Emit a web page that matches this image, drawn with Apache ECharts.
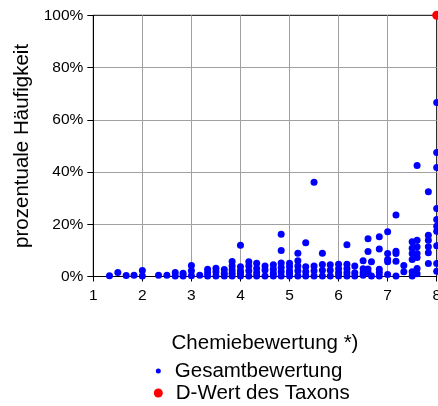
<!DOCTYPE html>
<html>
<head>
<meta charset="utf-8">
<script src="https://cdn.jsdelivr.net/npm/echarts@6/dist/echarts.min.js"></script>
<style>
html,body{margin:0;padding:0;background:#fff;}
#chart{width:438px;height:406px;}
</style>
</head>
<body>
<div id="chart"></div>
<script>
// Category positions (Chemiebewertung) and percentage values (Gesamtbewertung)
const xTicks = [1, 2, 3, 4, 5, 6, 7, 8];
const yTicks = [0, 20, 40, 60, 80, 100];
const gesamtX = [1.33, 1.5, 1.67, 1.83, 2.0, 2.33, 2.5, 2.67, 2.83, 3.0, 3.17, 3.33, 3.5, 3.67, 3.83,
  4.0, 4.17, 4.33, 4.5, 4.67, 4.83, 5.0, 5.17, 5.33, 5.5, 5.67, 5.83, 6.0, 6.17, 6.33, 6.5, 6.6, 6.67,
  6.83, 7.0, 7.17, 7.33, 7.5, 7.6, 7.83, 8.0];
const gesamtY = [
  [0.3], [1.5], [0.4], [0.5], [2.3, 0.2], [0.5], [0.5], [1.5, 0.2], [1.2, 0.2],
  [4.2, 2.2, 0.3], [0.5], [2.8, 1.4, 0.2], [3.2, 1.8, 0.2], [2.7, 1.2, 0.2],
  [5.7, 4.0, 2.5, 1.2, 0.2],
  [12, 3.7, 2.2, 1.2, 0.2], [5.6, 4.0, 2.2, 0.2], [5.1, 3.1, 1.4, 0.2], [4.0, 2.5, 0.2],
  [4.5, 2.8, 1.2, 0.2], [16.2, 10, 5.2, 3.4, 1.8, 0.2], [5.1, 3.7, 2.2, 1.2, 0.2],
  [8.9, 6.0, 4.0, 2.2, 0.2], [12.9, 3.7, 1.8, 0.2], [36.1, 4.0, 2.2, 0.2], [8.9, 4.6, 2.4, 0.2],
  [4.5, 2.4, 0.2], [4.7, 3.0, 1.4, 0.2], [12.2, 4.7, 3.0, 1.4, 0.2], [4.0, 1.4, 0.2],
  [6.0, 3.0, 1.4, 0.5], [14.5, 9.6, 2.9, 1.5], [5.6, 0.2],
  [15.2, 10.5, 2.8, 1.5, 0.2], [17.1, 8.8, 6.5, 5.6, 0.8], [23.5, 9.7, 8.8, 5.8, 0.2],
  [4.2, 1.8], [13.3, 10.8, 8.8, 6.5, 1.8, 0.2], [42.5, 13.9, 11.4, 8.8, 7.3, 3.1, 1.1],
  [32.4, 15.8, 13.9, 11.4, 9.1, 5.0],
  [66.6, 47.5, 41.7, 26, 21.8, 19.2, 17.3, 11.8, 5, 2]
];
const taxonX = [8];
const taxonY = [100];

const gesamtData = [];
gesamtX.forEach((x, i) => gesamtY[i].forEach(y => gesamtData.push([x, y])));
const taxonData = taxonX.map((x, i) => [x, taxonY[i]]);

const FONT = 'Liberation Sans, Arial, sans-serif';
const chart = echarts.init(document.getElementById('chart'), null, {renderer: 'canvas'});
chart.setOption({
  animation: false,
  backgroundColor: '#fff',
  textStyle: {fontFamily: FONT, color: '#000'},
  grid: {left: 93.3, right: 1.3, top: 15.3, bottom: 129.5, outerBoundsMode: 'none', containLabel: false,
         show: true, borderColor: '#000', borderWidth: 1},
  legend: [
    {data: ['Gesamtbewertung'], orient: 'vertical', left: 155.8, top: 360.5, padding: 0,
     itemWidth: 5, itemHeight: 5, icon: 'circle',
     textStyle: {fontFamily: FONT, fontSize: 20.5, color: '#000', padding: [0, 0, 0, 9]}},
    {data: ['D-Wert des Taxons'], orient: 'vertical', left: 153.8, top: 382.5, padding: 0,
     itemWidth: 9, itemHeight: 9, icon: 'circle',
     textStyle: {fontFamily: FONT, fontSize: 20.5, color: '#000', padding: [0, 0, 0, 8]}}
  ],
  xAxis: {
    type: 'value', min: xTicks[0], max: xTicks[xTicks.length - 1], interval: 1,
    name: 'Chemiebewertung *)', nameLocation: 'middle', nameGap: 56,
    nameTextStyle: {fontFamily: FONT, fontSize: 20.5, color: '#000'},
    axisLine: {show: true, onZero: false, lineStyle: {color: '#000', width: 1}},
    axisTick: {show: true, inside: false, length: 5, lineStyle: {color: '#000'}},
    axisLabel: {fontFamily: FONT, fontSize: 15.5, color: '#000', margin: 11},
    splitLine: {show: true, showMinLine: false, showMaxLine: false, lineStyle: {color: '#a0a0a0', width: 1}}
  },
  yAxis: {
    type: 'value', min: yTicks[0], max: yTicks[yTicks.length - 1], interval: 20,
    name: 'prozentuale Häufigkeit', nameLocation: 'middle', nameGap: 52,
    nameTextStyle: {fontFamily: FONT, fontSize: 20.5, color: '#000'},
    axisLine: {show: true, lineStyle: {color: '#000', width: 1}},
    axisTick: {show: true, inside: false, length: 6, lineStyle: {color: '#000'}},
    axisLabel: {fontFamily: FONT, fontSize: 15.5, color: '#000', margin: 10, formatter: '{value}%'},
    splitLine: {show: true, showMinLine: false, showMaxLine: false, lineStyle: {color: '#a0a0a0', width: 1}}
  },
  series: [
    {name: 'Gesamtbewertung', type: 'scatter', data: gesamtData, symbol: 'circle', symbolSize: 7,
     clip: false, itemStyle: {color: '#0000ff', opacity: 1}},
    {name: 'D-Wert des Taxons', type: 'scatter', data: taxonData, symbol: 'circle', symbolSize: 9,
     clip: false, itemStyle: {color: '#ff0000', opacity: 1}}
  ]
});
</script>
</body>
</html>
